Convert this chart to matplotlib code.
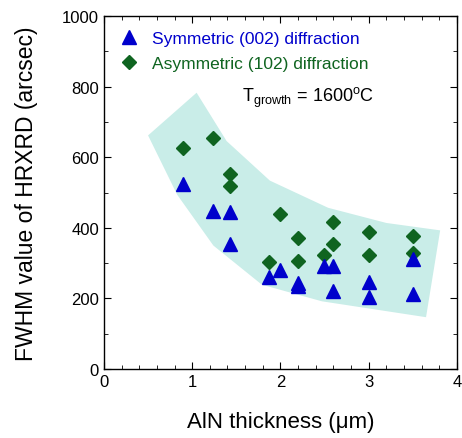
import matplotlib
matplotlib.use("Agg")
import matplotlib.pyplot as plt
from matplotlib.ticker import MultipleLocator

plt.rcParams['font.family'] = ['Liberation Sans', 'DejaVu Sans']
plt.rcParams['mathtext.fontset'] = 'custom'
plt.rcParams['mathtext.rm'] = 'Liberation Sans'
plt.rcParams['mathtext.it'] = 'Liberation Sans'

# symmetric (002) FWHM, arcsec
sym_x = [0.9, 1.24, 1.43, 1.43, 1.875, 2.0, 2.2, 2.2, 2.49, 2.6, 2.6, 3.0, 3.0, 3.5, 3.5]
sym_y = [525, 449, 444, 353, 260, 282, 245, 236, 293, 293, 222, 247, 204, 312, 213]

# asymmetric (102) FWHM, arcsec
asym_x = [0.9, 1.24, 1.43, 1.43, 1.875, 2.0, 2.2, 2.2, 2.49, 2.6, 2.6, 3.0, 3.0, 3.5, 3.5]
asym_y = [625, 655, 553, 518, 303, 440, 370, 307, 324, 417, 354, 388, 322, 376, 328]

# shaded band outline
band_x = [0.5, 1.05, 1.39, 1.88, 2.54, 3.2, 3.81, 3.65, 2.47, 1.79, 1.24, 0.83]
band_y = [662, 783, 646, 534, 457, 414, 393, 147, 192, 239, 350, 494]

fig = plt.figure(figsize=(4.62, 4.39), dpi=100)
ax = fig.add_axes([0.225, 0.157, 0.764, 0.804])

ax.fill(band_x, band_y, color='#c9ede8', lw=0, zorder=1)
ax.plot(sym_x, sym_y, '^', color='#0000cc', ms=10, ls='none', zorder=3,
        label='Symmetric (002) diffraction')
ax.plot(asym_x, asym_y, 'D', color='#0f6420', ms=7.5, ls='none', zorder=2,
        label='Asymmetric (102) diffraction')

ax.set_xlim(0, 4)
ax.set_ylim(0, 1000)
ax.xaxis.set_major_locator(MultipleLocator(1))
ax.xaxis.set_minor_locator(MultipleLocator(0.2))
ax.yaxis.set_major_locator(MultipleLocator(200))
ax.yaxis.set_minor_locator(MultipleLocator(100))
ax.tick_params(which='both', direction='in', top=True, right=True, labelsize=12)
ax.tick_params(which='major', length=5)
ax.tick_params(which='minor', length=3)
for s in ax.spines.values():
    s.set_linewidth(1.0)

ax.set_xlabel('AlN thickness (\u03bcm)', fontsize=16, labelpad=16)
ax.set_ylabel('FWHM value of HRXRD (arcsec)', fontsize=16.5, labelpad=17)

leg = ax.legend(loc='upper left', frameon=False, fontsize=12.5, labelcolor='linecolor',
                handletextpad=0.7, borderaxespad=0.55, labelspacing=0.55, handlelength=1.2,
                borderpad=0.3)

ax.text(1.56, 760, 'T$_{\\mathrm{growth}}$ = 1600$^{\\mathrm{o}}$C', fontsize=13)

fig.savefig('out.png', dpi=100)
